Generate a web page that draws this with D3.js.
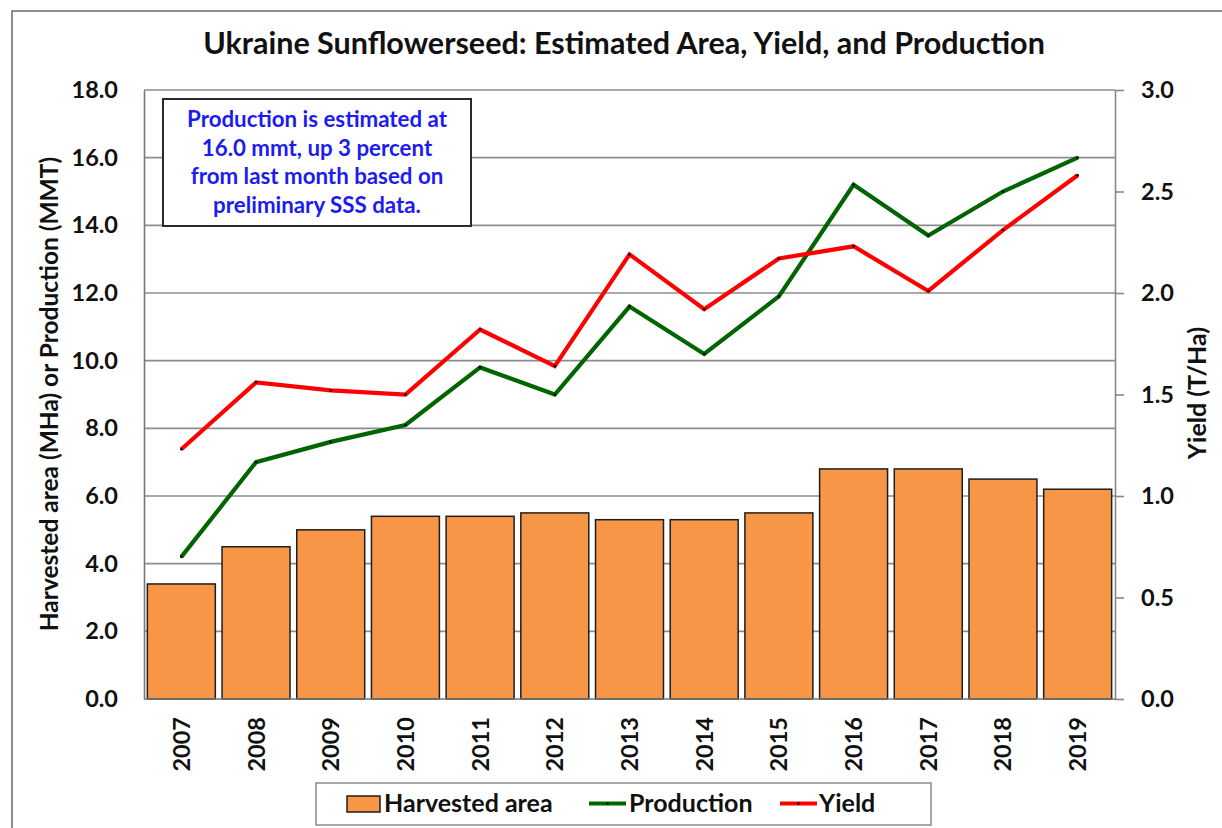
<!DOCTYPE html>
<html>
<head>
<meta charset="utf-8">
<script src="https://cdn.jsdelivr.net/npm/d3@7"></script>
<style>
  html, body { margin: 0; padding: 0; background: #fff; }
  svg { display: block; }
  text { font-family: Lato, "Open Sans", sans-serif; font-weight: 700; fill: #111; }
</style>
</head>
<body>
<svg id="chart" width="1222" height="828"></svg>
<script>
const years = ["2007","2008","2009","2010","2011","2012","2013","2014","2015","2016","2017","2018","2019"];
const harvestedArea = [3.4, 4.5, 5.0, 5.4, 5.4, 5.5, 5.3, 5.3, 5.5, 6.8, 6.8, 6.5, 6.2];
const production = [4.2, 7.0, 7.6, 8.1, 9.8, 9.0, 11.6, 10.2, 11.9, 15.2, 13.7, 15.0, 16.0];
const yieldTHa = [1.23, 1.56, 1.52, 1.50, 1.82, 1.64, 2.19, 1.92, 2.17, 2.23, 2.01, 2.31, 2.58];
const leftTicks = [0, 2, 4, 6, 8, 10, 12, 14, 16, 18];
const rightTicks = [0, 0.5, 1.0, 1.5, 2.0, 2.5, 3.0];
const titleText = "Ukraine Sunflowerseed: Estimated Area, Yield, and Production";
const leftAxisTitle = "Harvested area (MHa) or Production (MMT)";
const rightAxisTitle = "Yield (T/Ha)";
const noteLines = ["Production is estimated at", "16.0 mmt, up 3 percent", "from last month based on", "preliminary SSS data."];
const legendLabels = ["Harvested area", "Production", "Yield"];

const svg = d3.select("#chart");
const L = 144, R = 1115, T = 90, B = 699;

// outer frame
svg.append("rect").attr("x", 12).attr("y", 11).attr("width", 1240).attr("height", 840)
  .attr("fill", "none").attr("stroke", "#444").attr("stroke-width", 1.2);

const x = d3.scaleBand().domain(years).range([L, R]).paddingInner(0.09).paddingOuter(0.045);
const yL = d3.scaleLinear().domain([0, 18]).range([B, T]);
const yR = d3.scaleLinear().domain([0, 3]).range([B, T]);

// gridlines
svg.append("g").selectAll("line").data(leftTicks.filter(d => d > 0)).join("line")
  .attr("x1", L).attr("x2", R).attr("y1", d => yL(d)).attr("y2", d => yL(d))
  .attr("stroke", "#8c8c8c").attr("stroke-width", 1.6);

// bars
svg.append("g").selectAll("rect").data(years).join("rect")
  .attr("x", d => x(d)).attr("width", x.bandwidth())
  .attr("y", (d, i) => yL(harvestedArea[i])).attr("height", (d, i) => B - yL(harvestedArea[i]))
  .attr("fill", "#F79646").attr("stroke", "#1e1e1e").attr("stroke-width", 1.5);

// left axis
const gL = svg.append("g").attr("transform", `translate(${L},0)`)
  .call(d3.axisLeft(yL).tickValues(leftTicks).tickFormat(d3.format(".1f")).tickSize(0).tickPadding(26));
gL.select(".domain").attr("stroke", "#777").attr("stroke-width", 1.6);
gL.selectAll("text").attr("font-size", 23.5).attr("fill", "#111").style("font-family", "Lato").style("font-weight", 700);

// right axis
const gR = svg.append("g").attr("transform", `translate(${R},0)`)
  .call(d3.axisRight(yR).tickValues(rightTicks).tickFormat(d3.format(".1f")).tickSize(9).tickPadding(17).tickSizeOuter(0));
gR.select(".domain").attr("stroke", "#888").attr("stroke-width", 1.6);
gR.selectAll(".tick line").attr("stroke", "#888").attr("stroke-width", 1.6);
gR.selectAll("text").attr("font-size", 23.5).attr("fill", "#111").style("font-family", "Lato").style("font-weight", 700);

// baseline
svg.append("line").attr("x1", L).attr("x2", R).attr("y1", B).attr("y2", B)
  .attr("stroke", "#777").attr("stroke-width", 1.6);

// bottom axis labels
const gB = svg.append("g").attr("transform", `translate(0,${B})`)
  .call(d3.axisBottom(x).tickSize(0).tickSizeOuter(0));
gB.select(".domain").remove();
gB.selectAll("text")
  .attr("transform", "rotate(-90)").attr("text-anchor", "end")
  .attr("x", -18).attr("y", 0).attr("dy", "0.36em")
  .attr("font-size", 23.5).attr("fill", "#111").style("font-family", "Lato").style("font-weight", 700);

// lines
const cx = (d) => x(d) + x.bandwidth() / 2;
const prodLine = d3.line().x((d, i) => cx(years[i])).y(d => yL(d));
const yieldLine = d3.line().x((d, i) => cx(years[i])).y(d => yR(d));
svg.append("path").datum(production).attr("d", prodLine)
  .attr("fill", "none").attr("stroke", "#006400").attr("stroke-width", 4.2).attr("stroke-linejoin", "miter");
svg.append("path").datum(yieldTHa).attr("d", yieldLine)
  .attr("fill", "none").attr("stroke", "#FF0000").attr("stroke-width", 4.2).attr("stroke-linejoin", "miter");
svg.append("g").selectAll("circle").data(production).join("circle")
  .attr("cx", (d, i) => cx(years[i])).attr("cy", d => yL(d)).attr("r", 1.3).attr("fill", "#000");
svg.append("g").selectAll("circle").data(yieldTHa).join("circle")
  .attr("cx", (d, i) => cx(years[i])).attr("cy", d => yR(d)).attr("r", 1.3).attr("fill", "#000");

// title
svg.append("text").attr("x", 624).attr("y", 54).attr("text-anchor", "middle")
  .attr("font-size", 30.5).text(titleText);

// axis titles
svg.append("text").attr("transform", `translate(58,394) rotate(-90)`).attr("text-anchor", "middle")
  .attr("font-size", 24.5).text(leftAxisTitle);
svg.append("text").attr("transform", `translate(1206,393) rotate(-90)`).attr("text-anchor", "middle")
  .attr("font-size", 25).text(rightAxisTitle);

// annotation box
svg.append("rect").attr("x", 163).attr("y", 99).attr("width", 308).attr("height", 127)
  .attr("fill", "#fff").attr("stroke", "#2a2a2a").attr("stroke-width", 2);
svg.append("g").selectAll("text").data(noteLines).join("text")
  .attr("x", 317).attr("y", (d, i) => 127 + i * 28.7).attr("text-anchor", "middle")
  .attr("font-size", 22.3).style("fill", "#1C1CF0").text(d => d);

// legend
const lg = svg.append("g");
lg.append("rect").attr("x", 316).attr("y", 783).attr("width", 615).attr("height", 42)
  .attr("fill", "#fff").attr("stroke", "#8a8a8a").attr("stroke-width", 1.5);
lg.append("rect").attr("x", 347).attr("y", 796).attr("width", 33).attr("height", 16)
  .attr("fill", "#F79646").attr("stroke", "#1e1e1e").attr("stroke-width", 1.5);
lg.append("text").attr("x", 384).attr("y", 812).attr("font-size", 25).text(legendLabels[0]);
lg.append("line").attr("x1", 589).attr("x2", 626).attr("y1", 803.5).attr("y2", 803.5)
  .attr("stroke", "#006400").attr("stroke-width", 4.2);
lg.append("circle").attr("cx", 607.5).attr("cy", 803.5).attr("r", 1.3).attr("fill", "#000");
lg.append("text").attr("x", 629).attr("y", 812).attr("font-size", 25).text(legendLabels[1]);
lg.append("line").attr("x1", 780).attr("x2", 817).attr("y1", 803.5).attr("y2", 803.5)
  .attr("stroke", "#FF0000").attr("stroke-width", 4.2);
lg.append("circle").attr("cx", 798.5).attr("cy", 803.5).attr("r", 1.3).attr("fill", "#000");
lg.append("text").attr("x", 819).attr("y", 812).attr("font-size", 25).text(legendLabels[2]);
</script>
</body>
</html>
